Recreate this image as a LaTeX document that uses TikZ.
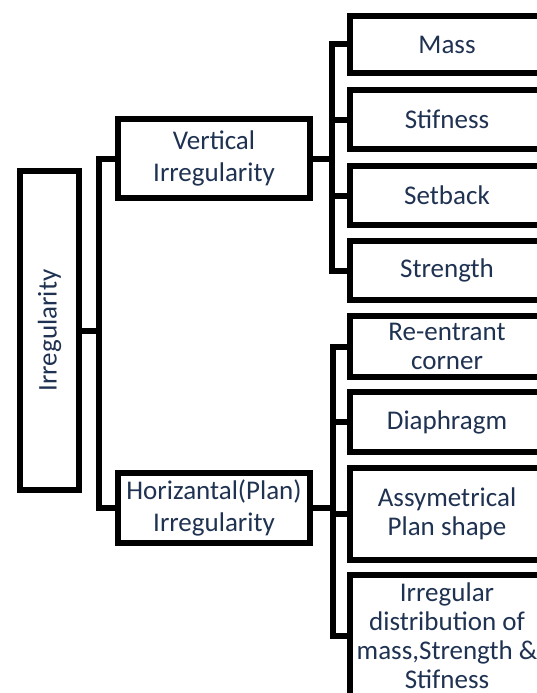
\documentclass[tikz,border=0pt]{standalone}
\usepackage{fontspec}
\setmainfont{Carlito}
\definecolor{txt}{HTML}{1F3251}
\begin{document}
\begin{tikzpicture}[x=1pt,y=-1pt,
  box/.style={draw=black,line width=6pt,inner sep=0pt,text=txt,align=center,
    font=\fontsize{27}{31}\selectfont},
  leftbox/.style={box,minimum width=192pt,font=\fontsize{27}{32}\selectfont},
  rbox/.style={box,minimum width=194pt,font=\fontsize{27}{29}\selectfont},
  conn/.style={line width=6pt,line join=miter}]
\useasboundingbox (0,0) rectangle (537,693);
\clip (0,0) rectangle (537,693);
\fill[white] (0,0) rectangle (537,693);

\node[box,minimum width=59pt,minimum height=319pt] (irr) at (49.5,330.5) {\rotatebox{90}{Irregularity}};

\node[leftbox,minimum height=79pt] (vi) at (214,158.5) {Vertical\\Irregularity};
\node[leftbox,minimum height=70pt] (hi) at (214,508) {Horizantal(Plan)\\Irregularity};

\node[rbox,minimum height=57pt] (mass) at (447,44.5) {Mass};
\node[rbox,minimum height=59pt] (stif) at (447,119.5) {Stifness};
\node[rbox,minimum height=59pt] (setb) at (447,195.5) {Setback};
\node[rbox,minimum height=59pt] (str) at (447,270.5) {Strength};
\node[rbox,minimum height=61pt] (re) at (447,346.5) {Re-entrant\\corner};
\node[rbox,minimum height=60pt] (dia) at (447,422) {Diaphragm};
\node[rbox,minimum height=92pt] (asy) at (447,514) {Assymetrical\\Plan shape};
\node[rbox,minimum height=122pt] (irrd) at (447,636) {Irregular\\distribution of\\mass,Strength \&\\Stifness};

\coordinate (busL) at (99,330.5);
\coordinate (busV) at (332,158.5);
\coordinate (busH) at (333,508);

\draw[conn] (vi.west) -| (busL) |- (hi.west);
\draw[conn] (irr.east) -- (irr.east -| busL);

\draw[conn] (mass.west) -| (busV) |- (str.west);
\draw[conn] (stif.west) -- (stif.west -| busV);
\draw[conn] (setb.west) -- (setb.west -| busV);
\draw[conn] (vi.east) -- (vi.east -| busV);

\draw[conn] (re.west) -| (busH) |- (irrd.west);
\draw[conn] (dia.west) -- (dia.west -| busH);
\draw[conn] (asy.west) -- (asy.west -| busH);
\draw[conn] (hi.east) -- (hi.east -| busH);
\end{tikzpicture}
\end{document}
